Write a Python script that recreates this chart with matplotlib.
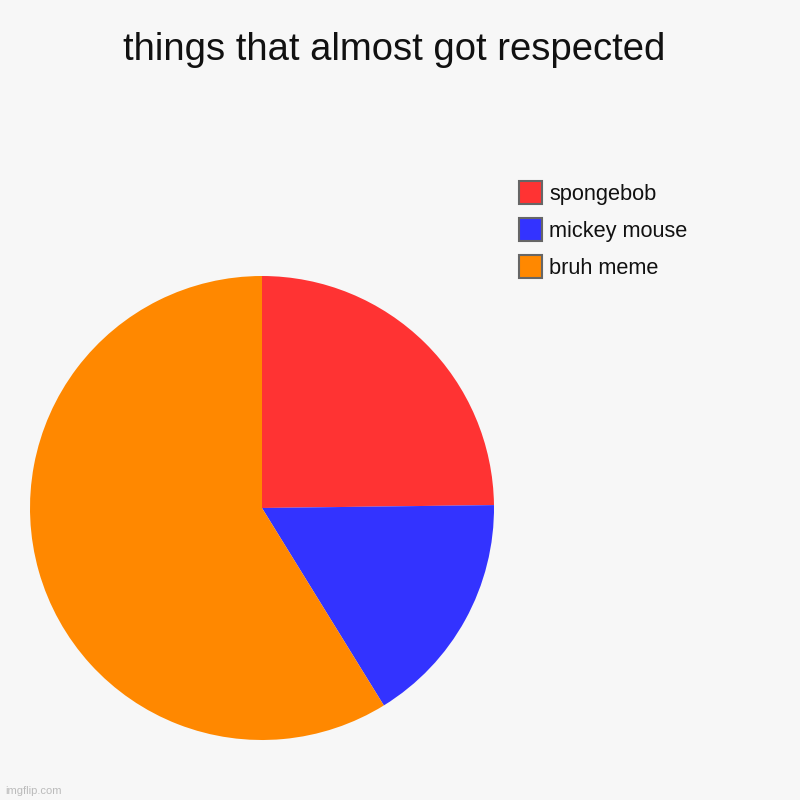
import matplotlib
matplotlib.use("Agg")
import matplotlib.pyplot as plt
from matplotlib.patches import Rectangle

title = "things that almost got respected"
labels = ["spongebob", "mickey mouse", "bruh meme"]
values = [24.8, 16.4, 58.8]
colors = ["#ff3333", "#3333ff", "#ff8800"]

plt.rcParams['font.family'] = ['Liberation Sans', 'DejaVu Sans']
bg = "#f7f7f7"
fig = plt.figure(figsize=(8, 8), dpi=100, facecolor=bg)

ax = fig.add_axes([30/800, 60/800, 464/800, 464/800])
ax.set_facecolor(bg)
ax.pie(values, colors=colors, startangle=90, counterclock=False, radius=1,
       wedgeprops=dict(linewidth=0))
ax.set_xlim(-1, 1)
ax.set_ylim(-1, 1)
ax.set_aspect('equal')
ax.axis('off')

fig.text(0.493, 1 - 50/800, title, ha='center', va='center', fontsize=27.5, color='#111111')

for i, lab in enumerate(labels):
    ytop = 181 + i * 37
    fig.patches.append(Rectangle((519/800, 1 - (ytop + 23)/800), 23/800, 23/800,
                                 transform=fig.transFigure, facecolor=colors[i],
                                 edgecolor='#666666', linewidth=1.5))
    fig.text(549/800, 1 - (ytop + 13.5)/800, lab, ha='left', va='center',
             fontsize=15.7, color='#111111')

fig.text(5/800, 1 - 791/800, "imgflip.com", ha='left', va='center', fontsize=8, color='#bbbbbb')

fig.savefig("out.png", dpi=100, facecolor=bg)
